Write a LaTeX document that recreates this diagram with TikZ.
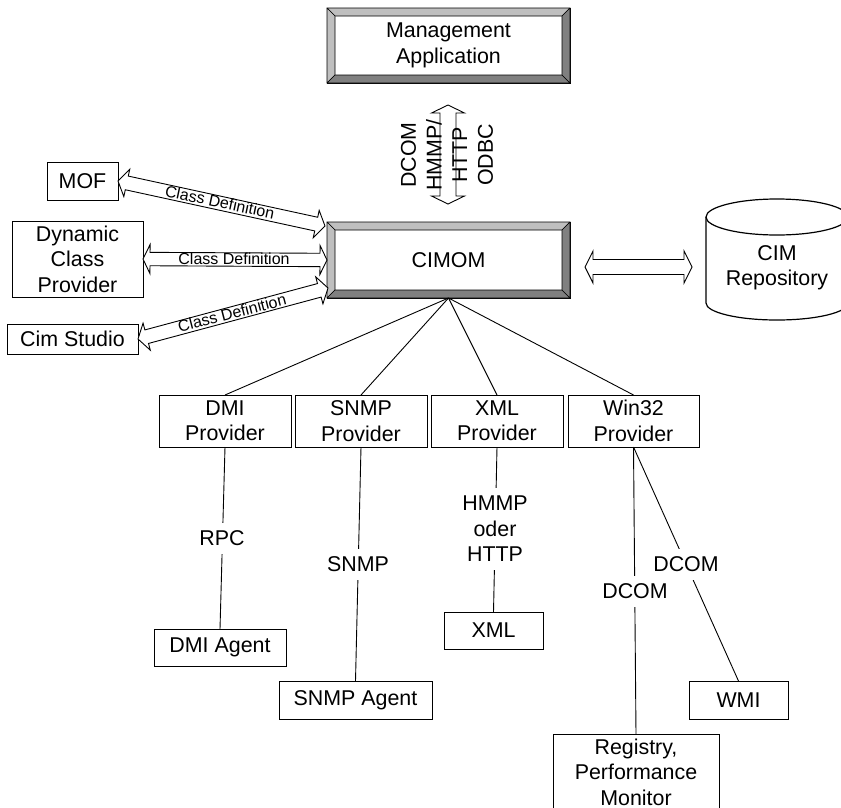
\documentclass[tikz,border=0pt]{standalone}
\usepackage{fontspec}
\setmainfont{Liberation Sans}
\usetikzlibrary{calc}
\tikzset{
  plainbox/.style={draw=black,line width=0.9pt,fill=white,inner sep=0pt,outer sep=0pt,align=center,
    font=\fontsize{21.4}{25.4}\selectfont},
  bevelbox/.style={plainbox,line width=1pt},
  lbl/.style={fill=white,inner xsep=1pt,inner ysep=0pt,align=center,font=\fontsize{21.4}{25.4}\selectfont},
  classlbl/.style={inner sep=0pt,font=\fontsize{16}{18}\selectfont},
  link/.style={draw=black,line width=0.9pt},
  wide/.style={draw=black,line width=0.9pt,fill=white,line join=miter},
  bevel light/.style={fill=black!25,draw=black,line width=0.6pt,line join=round},
  bevel dark/.style={fill=black!50,draw=black,line width=0.6pt,line join=round}
}
% from, to, shaft half width, head half width, head length
\newcommand{\widearrow}[5]{%
  \path[wide] (#1)
    -- ($(#1)!#5pt!(#2)!#4pt!90:(#2)$)
    -- ($(#1)!#5pt!(#2)!#3pt!90:(#2)$)
    -- ($(#2)!#5pt!(#1)!#3pt!-90:(#1)$)
    -- ($(#2)!#5pt!(#1)!#4pt!-90:(#1)$)
    -- (#2)
    -- ($(#2)!#5pt!(#1)!#4pt!90:(#1)$)
    -- ($(#2)!#5pt!(#1)!#3pt!90:(#1)$)
    -- ($(#1)!#5pt!(#2)!#3pt!-90:(#2)$)
    -- ($(#1)!#5pt!(#2)!#4pt!-90:(#2)$)
    -- cycle;}
\newcommand{\bevelon}[1]{%
  \path[bevel light] (#1.north west) -- (#1.north east) -- ($(#1.north east)+(-8,8)$) -- ($(#1.north west)+(8,8)$) -- cycle;
  \path[bevel light] (#1.north west) -- ($(#1.north west)+(8,8)$) -- ($(#1.south west)+(8,-8)$) -- (#1.south west) -- cycle;
  \path[bevel dark] (#1.south west) -- ($(#1.south west)+(8,-8)$) -- ($(#1.south east)+(-8,-8)$) -- (#1.south east) -- cycle;
  \path[bevel dark] (#1.north east) -- (#1.south east) -- ($(#1.south east)+(-8,-8)$) -- ($(#1.north east)+(-8,8)$) -- cycle;}
\begin{document}
\begin{tikzpicture}[x=1pt,y=-1pt]
\useasboundingbox (0,0) rectangle (841,807);
\clip (0,0) rectangle (841,807);

% bevelled boxes
\node[bevelbox,minimum width=243pt,minimum height=75pt] (mgmt) at (448.5,45.5) {Management\\Application};
\bevelon{mgmt}
\node[bevelbox,minimum width=243pt,minimum height=76pt] (cimom) at (448.5,260) {CIMOM};
\bevelon{cimom}

% left boxes
\node[plainbox,minimum width=71pt,minimum height=38pt] (mof) at (82.5,181) {MOF};
\node[plainbox,minimum width=131pt,minimum height=76pt] (dyn) at (77.5,259) {Dynamic\\Class\\Provider};
\node[plainbox,minimum width=131pt,minimum height=30pt] (studio) at (72.5,339) {Cim Studio};

% providers
\node[plainbox,minimum width=132pt,minimum height=52pt] (dmip) at (225,421) {DMI\\Provider};
\node[plainbox,minimum width=132pt,minimum height=52pt] (snmpp) at (361,421) {SNMP\\Provider};
\node[plainbox,minimum width=132pt,minimum height=52pt] (xmlp) at (497,421) {XML\\Provider};
\node[plainbox,minimum width=131pt,minimum height=52pt] (winp) at (633.5,421) {Win32\\Provider};

% agents
\node[plainbox,minimum width=132pt,minimum height=37pt] (dmia) at (220,647.5) {DMI Agent};
\node[plainbox,minimum width=153pt,minimum height=38pt] (snmpa) at (355.5,700) {SNMP Agent};
\node[plainbox,minimum width=99pt,minimum height=37pt] (xmla) at (493.5,630.5) {XML};
\node[plainbox,minimum width=99pt,minimum height=38pt] (wmi) at (738.5,700) {WMI};
\node[plainbox,minimum width=166pt,minimum height=76pt] (reg) at (636,772) {Registry,\\Performance\\Monitor};

% repository
\path[draw=black,line width=1.2pt,fill=white] (706,217) -- (706,303)
  arc[start angle=180,end angle=360,x radius=71pt,y radius=17pt]
  -- (848,217)
  arc[start angle=0,end angle=180,x radius=71pt,y radius=18pt] -- cycle;
\draw[line width=1.2pt] (706,217) arc[start angle=180,end angle=360,x radius=71pt,y radius=18pt];
\node[inner sep=0pt,align=center,font=\fontsize{21.4}{25.4}\selectfont] (repo) at (777,268) {CIM\\Repository};

% connectors
\draw[link] (cimom.south) -- (dmip.north);
\draw[link] (cimom.south) -- (snmpp.north);
\draw[link] (cimom.south) -- (xmlp.north);
\draw[link] (cimom.south) -- (winp.north);
\draw[link] (dmip.south) -- (dmia.north);
\draw[link] (snmpp.south) -- (snmpa.north);
\draw[link] (xmlp.south) -- (xmla.north);
\draw[link] (winp.south) -- (reg.north);
\draw[link] (winp.south) -- (wmi.north);

% connector labels
\node[lbl,minimum height=31pt] (lrpc) at (222,538) {RPC};
\node[lbl,minimum height=31pt] (lsnmp) at (358,564) {SNMP};
\node[lbl,minimum height=82pt] (lhmmp) at (495,529) {HMMP\\oder\\HTTP};
\node[lbl,minimum height=31pt] (ldcoma) at (635,591) {DCOM};
\node[lbl,minimum height=31pt] (ldcomb) at (686,564) {DCOM};

% wide arrows
\coordinate (mofcim) at (325,226);
\coordinate (studiocim) at (328,288);
\coordinate (mgmtend) at (448,105);
\coordinate (cimend) at (448,204);
\coordinate (repoa) at (585,267);
\coordinate (repob) at (692,267);
\widearrow{mof.east}{mofcim}{7}{14}{9}
\widearrow{dyn.east}{cimom.west}{6.7}{14.5}{7}
\widearrow{studio.east}{studiocim}{7}{14}{9}
\widearrow{mgmtend}{cimend}{8}{16.5}{8}
\widearrow{repoa}{repob}{7.5}{16}{8}

% arrow labels
\node[classlbl,rotate=-12] (cl1) at (220,202) {Class Definition};
\node[classlbl] (cl2) at (234,259) {Class Definition};
\node[classlbl,rotate=14.5] (cl3) at (232,313) {Class Definition};
\node[inner sep=0pt,rotate=90,align=center,font=\fontsize{21.4}{25.7}\selectfont] (proto) at (447,155) {DCOM\\HMMP/\\HTTP\\ODBC};
\end{tikzpicture}
\end{document}
